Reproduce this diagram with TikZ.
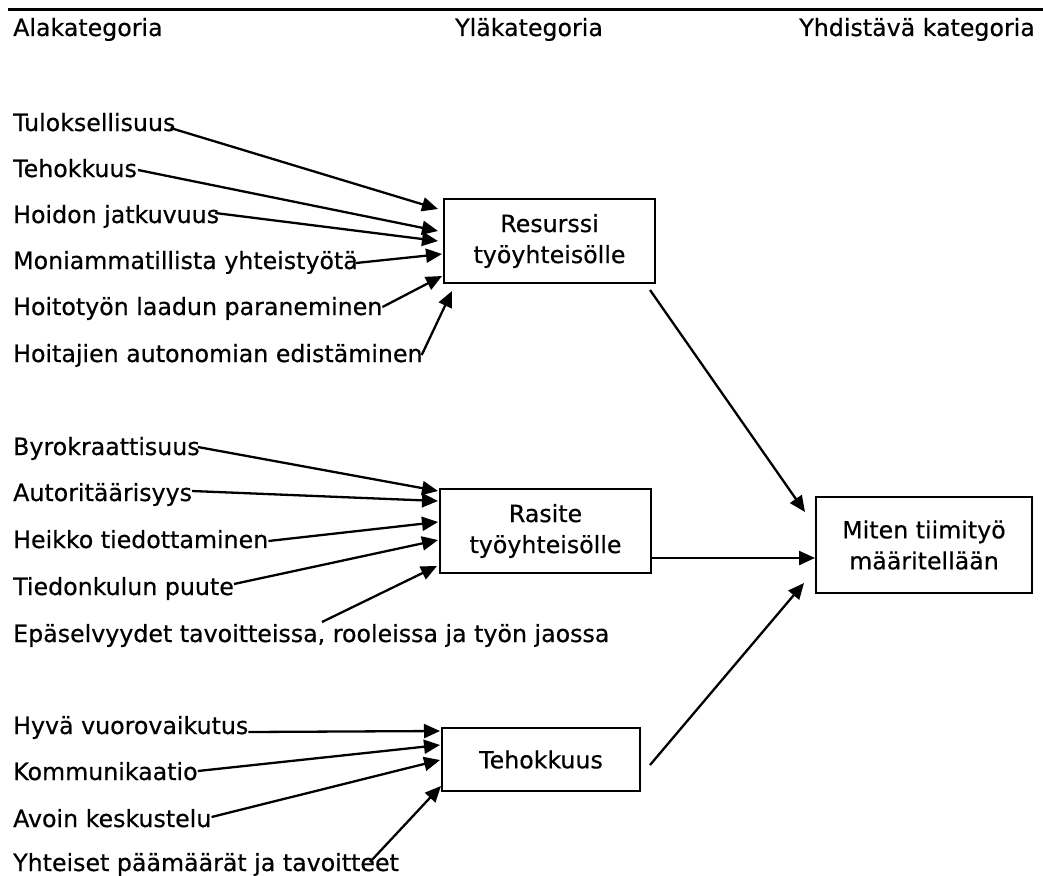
\documentclass[tikz,border=0pt]{standalone}
\usepackage{fontspec}
\setmainfont{DejaVu Sans}[BoldFont=DejaVu Sans,BoldFeatures={FakeBold=0.5}]
\usetikzlibrary{arrows.meta,calc}
\begin{document}
\begin{tikzpicture}[x=1pt,y=-1pt,
  lbl/.style={anchor=base west,inner sep=0pt,font=\fontsize{23.7}{31}\selectfont\bfseries},
  hdr/.style={inner sep=0pt,font=\fontsize{23.7}{31}\selectfont\bfseries},
  box/.style={draw,line width=2pt,align=center,inner sep=0pt,font=\fontsize{23.7}{31}\selectfont\bfseries},
  arr/.style={line width=2.3pt,-{Triangle[length=16pt,width=14pt]}},
  rule/.style={line width=3pt}
]
\useasboundingbox (0,0) rectangle (1043,875);

% header
\coordinate (r1) at (8,10);
\coordinate (r2) at (1043,10);
\draw[rule] (r1) -- (r2);
\node[hdr,anchor=base west] (h1) at (13,36) {Alakategoria};
\node[hdr,anchor=base west] (h2) at (455,36) {Yläkategoria};
\node[hdr,anchor=base east] (h3) at (1035,36) {Yhdistävä kategoria};

% boxes
\node[box,minimum width=211pt,minimum height=84pt] (res) at (549.5,241) {Resurssi\\työyhteisölle};
\node[box,minimum width=211pt,minimum height=84pt] (ras) at (545.5,531) {Rasite\\työyhteisölle};
\node[box,minimum width=198pt,minimum height=63pt] (teh) at (541,759.5) {Tehokkuus};
\node[box,minimum width=216pt,minimum height=96pt] (mit) at (924,545) {Miten tiimityö\\määritellään};

% top group
\node[lbl] (a1) at (13,131) {Tuloksellisuus};
\node[lbl] (a2) at (13,177) {Tehokkuus};
\node[lbl] (a3) at (13,223) {Hoidon jatkuvuus};
\node[lbl] (a4) at (13,269) {Moniammatillista yhteistyötä};
\node[lbl] (a5) at (13,315) {Hoitotyön laadun paraneminen};
\node[lbl] (a6) at (13,362) {Hoitajien autonomian edistäminen};

\draw[arr] ([shift={(-5,-3)}]a1.base east) -- ([shift={(-5,11)}]res.north west);
\draw[arr] ([shift={(1,-7)}]a2.base east) -- ([shift={(-5,33)}]res.north west);
\draw[arr] ([shift={(-4,-10)}]a3.base east) -- ([shift={(-5,43)}]res.north west);
\draw[arr] ([shift={(-2,-6)}]a4.base east) -- ([shift={(-1,56)}]res.north west);
\draw[arr] ([shift={(0,-8)}]a5.base east) -- ([shift={(-1,78)}]res.north west);
\draw[arr] ([shift={(-1,-7)}]a6.base east) -- ([shift={(9,7)}]res.south west);

% middle group
\node[lbl] (b1) at (13,455) {Byrokraattisuus};
\node[lbl] (b2) at (13,501) {Autoritäärisyys};
\node[lbl] (b3) at (13,548) {Heikko tiedottaminen};
\node[lbl] (b4) at (13,595) {Tiedonkulun puute};
\node[lbl] (b5) at (13,642) {Epäselvyydet tavoitteissa, rooleissa ja työn jaossa};

\draw[arr] ([shift={(-2,-8)}]b1.base east) -- ([shift={(-1,3)}]ras.north west);
\draw[arr] ([shift={(0,-10)}]b2.base east) -- ([shift={(-1,13)}]ras.north west);
\draw[arr] ([shift={(0,-7)}]b3.base east) -- ([shift={(-1,34)}]ras.north west);
\draw[arr] ([shift={(0,-11)}]b4.base east) -- ([shift={(-1,52)}]ras.north west);
\draw[arr] ([shift={(309,-20)}]b5.base west) -- ([shift={(-2,-8)}]ras.south west);

% bottom group
\node[lbl] (c1) at (13,734) {Hyvä vuorovaikutus};
\node[lbl] (c2) at (13,780) {Kommunikaatio};
\node[lbl] (c3) at (13,827) {Avoin keskustelu};
\node[lbl] (c4) at (13,871) {Yhteiset päämäärät ja tavoitteet};

\draw[arr] ([shift={(0,-2)}]c1.base east) -- ([shift={(-1,4)}]teh.north west);
\draw[arr] ([shift={(0,-9)}]c2.base east) -- ([shift={(-1,18)}]teh.north west);
\draw[arr] ([shift={(0,-10)}]c3.base east) -- ([shift={(-1,33)}]teh.north west);
\draw[arr] ([shift={(357,-9)}]c4.base west) -- ([shift={(0,-6)}]teh.south west);

% to the joining category
\draw[arr] ([shift={(-6,6)}]res.south east) -- ([shift={(-10,16)}]mit.north west);
\draw[arr] ([shift={(0,-16)}]ras.south east) -- ([shift={(0,-36)}]mit.south west);
\draw[arr] ([shift={(9,38)}]teh.north east) -- ([shift={(-11,-11)}]mit.south west);
\end{tikzpicture}
\end{document}
